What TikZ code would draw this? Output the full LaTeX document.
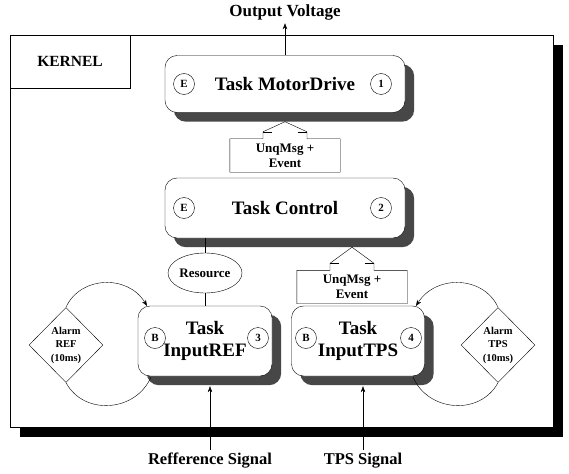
\documentclass[tikz,border=0pt]{standalone}
\usepackage{fontspec}
\setmainfont{Liberation Serif}
\usetikzlibrary{shapes.geometric,calc,arrows.meta}

\pgfdeclarelayer{framelayer}
\pgfdeclarelayer{shadowlayer}
\pgfsetlayers{framelayer,shadowlayer,main}

\begin{document}
\begin{tikzpicture}[x=1pt,y=-1pt,line width=0.8pt,font=\bfseries,
  taskbox/.style={draw, rounded corners=12pt, fill=white, align=center,
    font=\bfseries\fontsize{19}{22}\selectfont, inner sep=0pt},
  boxshadow/.style={fill=black!72, rounded corners=12pt},
  marker/.style={draw, circle, fill=white, minimum size=21pt, inner sep=0pt,
    font=\bfseries\fontsize{11}{11}\selectfont},
  msgbox/.style={align=center, minimum width=110pt, minimum height=33pt, inner sep=0pt,
    font=\bfseries\fontsize{13}{15}\selectfont},
  alarm/.style={draw, diamond, fill=white, minimum width=74pt, minimum height=75pt,
    inner sep=0pt},
  alarmtext/.style={align=center, font=\bfseries\fontsize{10.5}{13.5}\selectfont},
  sig/.style={font=\bfseries\fontsize{16.5}{18}\selectfont},
  tip/.style={-{Stealth[length=6pt,width=4.5pt]}}
]
\useasboundingbox (0,0) rectangle (569,473);

% kernel frame with its heavy shadow
\begin{pgfonlayer}{framelayer}
\fill[black] (20,45) rectangle (563,437);
\draw[fill=white] (10,35) rectangle (553,427);
\end{pgfonlayer}
\node[draw, minimum width=120pt, minimum height=53pt, inner sep=0pt,
  font=\bfseries\fontsize{15.5}{17}\selectfont] (kernel) at (70,61.5) {KERNEL};

% alarms and their activation loops
\node[alarm] (alref) at (66,345) {};
\node[alarmtext] at (alref.center) {Alarm\\REF\\(10ms)};
\node[alarm] (altps) at (498,345) {};
\node[alarmtext] at (altps.center) {Alarm\\TPS\\(10ms)};

\draw[tip] (alref.north) .. controls (80,276) and (128,274) .. (147,306);
\draw (alref.south) .. controls (84,416) and (136,412) .. (151,377);
\draw[tip] (altps.north) .. controls (484,276) and (436,274) .. (416,306);
\draw (altps.south) .. controls (480,416) and (428,412) .. (413,377);

% tasks
\node[taskbox, minimum width=240pt, minimum height=57pt] (md) at (285,84) {Task MotorDrive};
\node[marker] (md-e) at (184,84) {E};
\node[marker] (md-n) at (381,84) {1};

\node[taskbox, minimum width=240pt, minimum height=60pt] (tc) at (285,208) {Task Control};
\node[marker] (tc-e) at (184,208) {E};
\node[marker] (tc-n) at (381,208) {2};

\node[draw, ellipse, minimum width=74pt, minimum height=40pt, inner sep=0pt,
  font=\bfseries\fontsize{13}{15}\selectfont] (res) at (205,273) {Resource};

\node[taskbox, minimum width=134pt, minimum height=70pt] (ir) at (205,341) {Task\\InputREF};
\node[marker] (ir-b) at (155,338) {B};
\node[marker] (ir-n) at (258,338) {3};

\node[taskbox, minimum width=133pt, minimum height=70pt] (it) at (358,341) {Task\\InputTPS};
\node[marker] (it-b) at (306,338) {B};
\node[marker] (it-n) at (411,338) {4};

% shadows behind the task boxes
\begin{pgfonlayer}{shadowlayer}
\foreach \t in {md,tc,ir,it}
  \fill[boxshadow] ($(\t.south west)+(9,9)$) rectangle ($(\t.north east)+(9,9)$);
\end{pgfonlayer}

% resource link
\draw (res.north) -- (res.north |- tc.south);
\draw (res.south) -- (res.south |- ir.north);

% message boxes with block arrows
\node[msgbox] (u1) at (285,155.5) {UnqMsg +\\Event};
\draw (u1.north west) -- ($(u1.north)+(-22,0)$) -- ++(0,-7)
  -- ($(md.south)+(0,9)$) -- ($(u1.north)+(22,-7)$) -- ($(u1.north)+(22,0)$)
  -- (u1.north east) -- (u1.south east) -- (u1.south west) -- cycle;
\draw ($(u1.north)+(-22,-7)$) -- ++(9,0);
\draw ($(u1.north)+(22,-7)$) -- ++(-9,0);

\node[msgbox] (u2) at (352,287) {UnqMsg +\\Event};
\draw (u2.north west) -- ($(u2.north)+(-22,0)$) -- ++(0,-7)
  -- ($(u2.north |- tc.south)+(0,9)$) -- ($(u2.north)+(22,-7)$) -- ($(u2.north)+(22,0)$)
  -- (u2.north east) -- (u2.south east) -- (u2.south west) -- cycle;
\draw ($(u2.north)+(-22,-7)$) -- ++(9,0);
\draw ($(u2.north)+(22,-7)$) -- ++(-9,0);

% external signals
\node[font=\bfseries\fontsize{17}{19}\selectfont] (ov) at (285,12) {Output Voltage};
\draw[tip] (md.north) -- (ov.south);

\node[sig] (rs) at (210,461) {Refference Signal};
\node[sig] (ts) at (363,461) {TPS Signal};
\draw[tip] (rs.north) -- ($(rs.north |- ir.south)+(0,10)$);
\draw[tip] (ts.north) -- ($(ts.north |- it.south)+(0,10)$);
\end{tikzpicture}
\end{document}
